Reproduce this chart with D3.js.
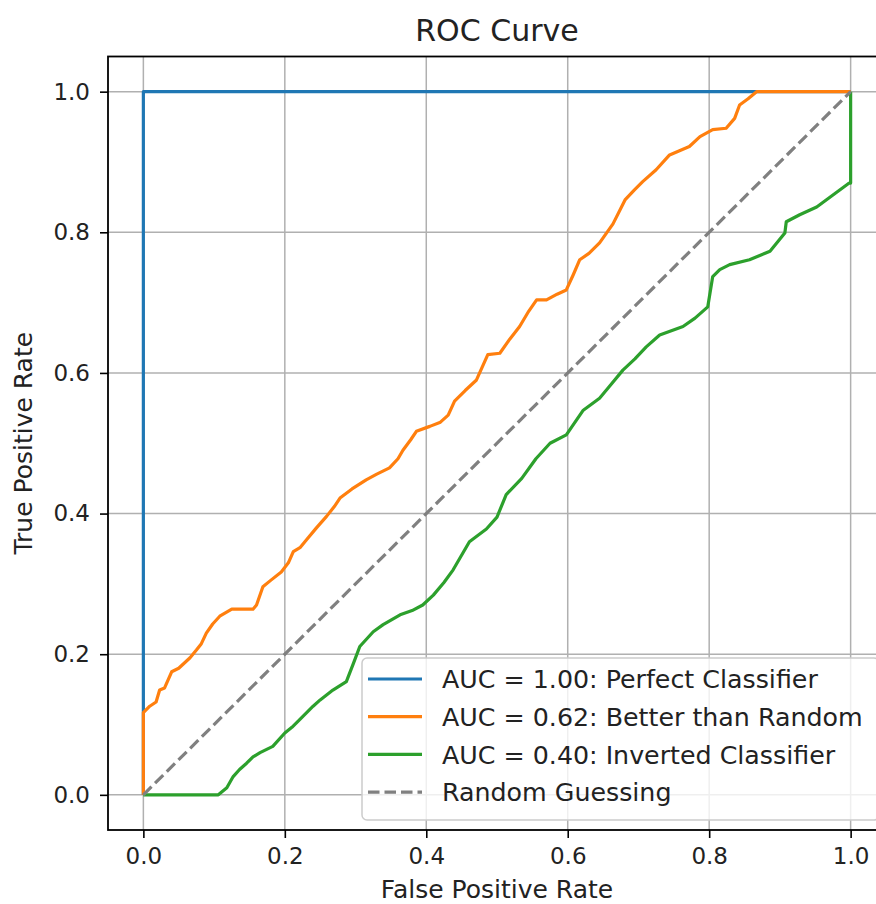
<!DOCTYPE html>
<html>
<head>
<meta charset="utf-8">
<script src="https://cdn.jsdelivr.net/npm/d3@7"></script>
<style>
  html, body { margin: 0; padding: 0; background: #fff; }
  svg { display: block; }
  text { font-family: "DejaVu Sans", sans-serif; fill: #222; }
</style>
</head>
<body>
<div id="chart"></div>
<script>
// ---- Data ----
const title = "ROC Curve";
const xLabel = "False Positive Rate";
const yLabel = "True Positive Rate";
const xTicks = [0.0, 0.2, 0.4, 0.6, 0.8, 1.0];
const yTicks = [0.0, 0.2, 0.4, 0.6, 0.8, 1.0];

const perfectFpr = [0, 0, 1];
const perfectTpr = [0, 1, 1];

const betterFpr = [0, 0, 0.009, 0.018, 0.023, 0.030, 0.040, 0.050, 0.066, 0.075, 0.082, 0.089, 0.098, 0.108, 0.125, 0.155, 0.160, 0.169, 0.180, 0.195, 0.205, 0.212, 0.222, 0.231, 0.245, 0.259, 0.270, 0.278, 0.295, 0.315, 0.330, 0.348, 0.360, 0.367, 0.378, 0.386, 0.405, 0.420, 0.431, 0.440, 0.455, 0.471, 0.487, 0.504, 0.518, 0.532, 0.545, 0.556, 0.570, 0.585, 0.598, 0.608, 0.617, 0.630, 0.645, 0.664, 0.681, 0.694, 0.706, 0.725, 0.744, 0.758, 0.772, 0.787, 0.805, 0.824, 0.836, 0.843, 0.855, 0.867, 1.0];
const betterTpr = [0, 0.117, 0.126, 0.132, 0.149, 0.152, 0.175, 0.180, 0.195, 0.206, 0.215, 0.230, 0.243, 0.254, 0.264, 0.264, 0.270, 0.296, 0.305, 0.317, 0.330, 0.346, 0.352, 0.363, 0.380, 0.396, 0.410, 0.422, 0.435, 0.448, 0.456, 0.465, 0.478, 0.490, 0.505, 0.517, 0.524, 0.530, 0.540, 0.560, 0.575, 0.590, 0.626, 0.628, 0.648, 0.666, 0.688, 0.704, 0.704, 0.712, 0.718, 0.740, 0.761, 0.770, 0.785, 0.812, 0.846, 0.860, 0.872, 0.889, 0.910, 0.916, 0.922, 0.936, 0.946, 0.948, 0.962, 0.981, 0.990, 1.0, 1.0];

const invertedFpr = [0, 0.106, 0.118, 0.127, 0.136, 0.146, 0.155, 0.165, 0.183, 0.200, 0.210, 0.221, 0.240, 0.250, 0.268, 0.287, 0.297, 0.306, 0.325, 0.339, 0.363, 0.380, 0.395, 0.410, 0.425, 0.438, 0.461, 0.485, 0.500, 0.513, 0.535, 0.555, 0.575, 0.598, 0.622, 0.645, 0.660, 0.678, 0.695, 0.711, 0.730, 0.763, 0.780, 0.798, 0.805, 0.815, 0.829, 0.857, 0.886, 0.907, 0.909, 0.928, 0.952, 0.975, 0.998, 1.0, 1.0];
const invertedTpr = [0, 0, 0.010, 0.026, 0.036, 0.045, 0.054, 0.060, 0.069, 0.088, 0.096, 0.107, 0.126, 0.135, 0.149, 0.161, 0.187, 0.211, 0.232, 0.242, 0.256, 0.262, 0.270, 0.284, 0.302, 0.320, 0.360, 0.378, 0.395, 0.427, 0.450, 0.478, 0.500, 0.512, 0.547, 0.564, 0.582, 0.604, 0.620, 0.637, 0.654, 0.666, 0.678, 0.694, 0.737, 0.747, 0.754, 0.761, 0.773, 0.799, 0.815, 0.825, 0.836, 0.853, 0.870, 0.870, 1.0];

const randomFpr = [0, 1];
const randomTpr = [0, 1];

const seriesNames = ["AUC = 1.00: Perfect Classifier", "AUC = 0.62: Better than Random", "AUC = 0.40: Inverted Classifier", "Random Guessing"];
const seriesColors = ["#1f77b4", "#ff7f0e", "#2ca02c", "#808080"];

// ---- Build ----
const W = 876, H = 904;
const svg = d3.select("#chart").append("svg").attr("width", W).attr("height", H);
svg.append("rect").attr("width", W).attr("height", H).attr("fill", "#fff");

const axL = 108, axR = 886, axT = 56.5, axB = 830;
const x = d3.scaleLinear().domain([-0.05, 1.05]).range([axL, axR]);
const y = d3.scaleLinear().domain([-0.05, 1.05]).range([axB, axT]);

const clipId = "plotclip";
svg.append("clipPath").attr("id", clipId).append("rect")
  .attr("x", axL).attr("y", axT).attr("width", axR - axL).attr("height", axB - axT);

// grid
const grid = svg.append("g");
grid.selectAll(".gx").data(xTicks).enter().append("line")
  .attr("x1", d => x(d)).attr("x2", d => x(d)).attr("y1", axT).attr("y2", axB)
  .attr("stroke", "#b0b0b0").attr("stroke-width", 1.5);
grid.selectAll(".gy").data(yTicks).enter().append("line")
  .attr("y1", d => y(d)).attr("y2", d => y(d)).attr("x1", axL).attr("x2", axR)
  .attr("stroke", "#b0b0b0").attr("stroke-width", 1.5);

// lines
const line = d3.line().x(d => x(d[0])).y(d => y(d[1]));
const zip = (a, b) => a.map((v, i) => [v, b[i]]);
const series = [
  zip(perfectFpr, perfectTpr),
  zip(betterFpr, betterTpr),
  zip(invertedFpr, invertedTpr),
  zip(randomFpr, randomTpr)
];
const plot = svg.append("g").attr("clip-path", `url(#${clipId})`);
series.forEach((s, i) => {
  plot.append("path").datum(s).attr("d", line)
    .attr("fill", "none").attr("stroke", seriesColors[i])
    .attr("stroke-width", 3.2)
    .attr("stroke-linejoin", "round")
    .attr("stroke-dasharray", i === 3 ? "11.5,5" : null);
});

// axes
const xAxis = d3.axisBottom(x).tickValues(xTicks).tickFormat(d3.format(".1f")).tickSize(8).tickPadding(10);
const yAxis = d3.axisLeft(y).tickValues(yTicks).tickFormat(d3.format(".1f")).tickSize(8).tickPadding(10);
const gx = svg.append("g").attr("transform", `translate(0,${axB})`).call(xAxis);
const gy = svg.append("g").attr("transform", `translate(${axL},0)`).call(yAxis);
[gx, gy].forEach(g => {
  g.select(".domain").remove();
  g.selectAll(".tick line").attr("stroke", "#000").attr("stroke-width", 1.6);
  g.selectAll(".tick text").attr("font-size", 23).attr("fill", "#222")
    .attr("font-family", "DejaVu Sans, sans-serif");
});

// spines
svg.append("rect").attr("x", axL).attr("y", axT).attr("width", axR - axL).attr("height", axB - axT)
  .attr("fill", "none").attr("stroke", "#000").attr("stroke-width", 1.8);

// title & labels
svg.append("text").attr("x", (axL + axR) / 2).attr("y", 41).attr("text-anchor", "middle")
  .attr("font-size", 30).text(title);
svg.append("text").attr("x", (axL + axR) / 2).attr("y", 898).attr("text-anchor", "middle")
  .attr("font-size", 25).text(xLabel);
svg.append("text").attr("transform", `translate(32,${(axT + axB) / 2}) rotate(-90)`)
  .attr("text-anchor", "middle").attr("font-size", 25).text(yLabel);

// legend
const lg = svg.append("g");
const lgX = 362, lgY = 658, lgW = 517, lgH = 162;
lg.append("rect").attr("x", lgX).attr("y", lgY).attr("width", lgW).attr("height", lgH)
  .attr("rx", 5).attr("fill", "rgba(255,255,255,0.8)").attr("stroke", "#cccccc").attr("stroke-width", 1.5);
seriesNames.forEach((n, i) => {
  const ry = 679 + i * 37.7;
  lg.append("line").attr("x1", 368).attr("x2", 422).attr("y1", ry).attr("y2", ry)
    .attr("stroke", seriesColors[i]).attr("stroke-width", 3.2)
    .attr("stroke-dasharray", i === 3 ? "11.5,5" : null);
  lg.append("text").attr("x", 442).attr("y", ry).attr("dy", "0.36em")
    .attr("font-size", 25.3).text(n);
});
</script>
</body>
</html>
